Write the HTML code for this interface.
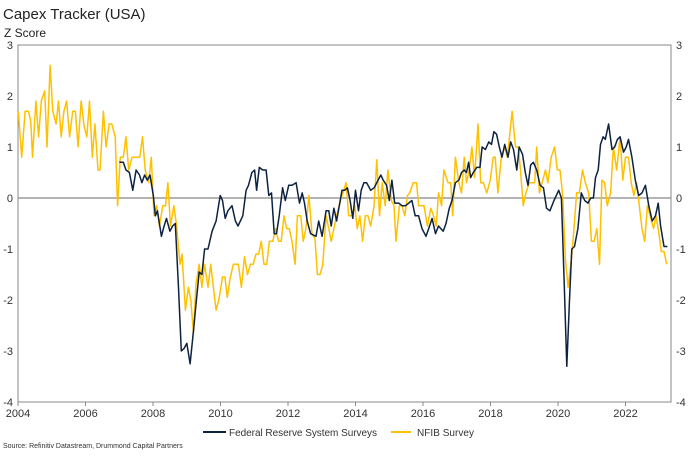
<!DOCTYPE html>
<html><head><meta charset="utf-8"><style>
body{margin:0;background:#fff;font-family:"Liberation Sans",sans-serif;}
svg text{font-family:"Liberation Sans",sans-serif;}
</style></head><body>
<svg id="chart" width="689" height="451">
<text x="3" y="19" font-size="15" fill="#222">Capex Tracker (USA)</text>
<text x="4" y="37" font-size="12" fill="#222">Z Score</text>
<g id="axes"></g>
<g id="series"></g>
<g>
<line x1="203" y1="432" x2="226" y2="432" stroke="#0d2240" stroke-width="2"/>
<text x="229" y="436" font-size="10" fill="#333" textLength="148">Federal Reserve System Surveys</text>
<line x1="391" y1="432" x2="411" y2="432" stroke="#ffc000" stroke-width="2"/>
<text x="417" y="436" font-size="10" fill="#333" textLength="57">NFIB Survey</text>
</g>
<text x="3" y="448" font-size="7" fill="#333">Source: Refinitiv Datastream, Drummond Capital Partners</text>
</svg>
<script>
const yTicks=[3,2,1,0,-1,-2,-3,-4];
const xTicks=[2004,2006,2008,2010,2012,2014,2016,2018,2020,2022];
const nfibDates=[2004.01,2004.11,2004.21,2004.31,2004.38,2004.43,2004.53,2004.61,2004.69,2004.79,2004.86,2004.95,2005.03,2005.13,2005.20,2005.28,2005.36,2005.44,2005.53,2005.62,2005.70,2005.78,2005.87,2005.96,2006.04,2006.12,2006.20,2006.28,2006.37,2006.43,2006.53,2006.61,2006.70,2006.78,2006.88,2006.95,2007.03,2007.12,2007.20,2007.28,2007.38,2007.52,2007.61,2007.69,2007.77,2007.87,2007.95,2008.03,2008.11,2008.19,2008.29,2008.37,2008.44,2008.52,2008.62,2008.70,2008.80,2008.86,2008.96,2009.05,2009.12,2009.20,2009.27,2009.37,2009.45,2009.53,2009.63,2009.71,2009.87,2009.95,
2010.06,2010.13,2010.20,2010.28,2010.38,2010.53,2010.62,2010.71,2010.80,2010.89,2010.97,2011.05,2011.13,2011.21,2011.29,2011.37,2011.45,2011.55,2011.63,2011.72,2011.80,2011.88,2011.96,2012.04,2012.12,2012.21,2012.28,2012.38,2012.45,2012.53,2012.62,2012.71,2012.80,2012.87,2012.95,2013.03,2013.13,2013.21,2013.28,2013.36,2013.44,2013.56,2013.72,2013.80,2013.90,2013.98,2014.05,2014.13,2014.21,2014.29,2014.37,2014.45,2014.55,2014.63,2014.71,2014.79,2014.88,2014.96,2015.06,2015.14,2015.20,2015.30,2015.38,2015.46,2015.54,2015.61,2015.71,2015.81,2015.87,2016.03,2016.13,2016.23,2016.31,2016.39,2016.46,
2016.55,2016.62,2016.74,2016.82,2016.88,2016.96,2017.06,2017.14,2017.22,2017.29,2017.37,2017.45,2017.53,2017.63,2017.71,2017.79,2017.89,2017.99,2018.08,2018.14,2018.22,2018.32,2018.42,2018.50,2018.64,2018.74,2018.82,2018.89,2018.97,2019.05,2019.15,2019.25,2019.31,2019.37,2019.45,2019.53,2019.63,2019.70,2019.80,2019.90,2019.98,2020.06,2020.14,2020.22,2020.30,2020.38,2020.45,2020.55,2020.63,2020.73,2020.81,2020.91,2020.99,2021.07,2021.15,2021.23,2021.30,2021.38,2021.46,2021.56,2021.64,2021.74,2021.84,2021.92,2022.00,2022.09,2022.17,2022.25,2022.33,2022.41,2022.49,2022.57,2022.65,2022.73,2022.83,2022.90,2022.98,2023.06,2023.14,2023.22];
const nfibValues=[1.7,0.8,1.7,1.7,1.5,0.8,1.9,1.2,1.9,2.1,1.0,2.6,1.7,1.45,1.9,1.2,1.7,1.9,1.2,1.7,1.7,1.0,1.9,1.4,1.2,1.9,0.8,1.45,0.55,0.55,1.7,1.0,1.45,1.45,1.2,-0.15,0.8,0.8,1.2,0.55,0.8,0.8,0.8,1.2,0.55,0.3,0.8,-0.35,-0.15,-0.55,-0.15,-0.15,0.3,-0.55,-0.15,-0.55,-1.3,-1.1,-2.2,-1.75,-2.0,-2.65,-1.7,-1.3,-1.75,-1.3,-1.75,-1.3,-2.2,-2.0,
-1.55,-1.55,-1.95,-1.6,-1.3,-1.3,-1.75,-1.15,-1.5,-1.3,-1.3,-1.1,-1.1,-0.85,-1.3,-1.3,-0.85,-0.85,-0.6,-0.85,-0.85,-0.35,-0.6,-0.6,-0.85,-1.3,-0.35,-0.35,-0.85,-0.6,0.05,-0.7,-0.8,-1.5,-1.5,-1.3,-0.35,-0.6,-0.85,-0.6,-0.35,-0.05,0.3,-0.35,-0.35,-0.15,-0.6,-0.35,-0.85,-0.35,-0.35,-0.55,-0.15,0.75,-0.35,0.3,-0.15,0.55,-0.05,-0.15,-0.85,-0.15,-0.15,-0.35,0.05,0.1,0.3,0.3,-0.15,-0.15,-0.55,-0.2,-0.35,-0.55,0.1,
-0.15,0.55,0.3,0.3,-0.35,0.8,0.3,0.1,0.8,0.3,0.55,1.0,0.4,1.45,0.3,0.3,0.1,0.35,0.8,0.8,0.1,0.8,1.0,0.8,1.7,1.0,1.0,0.55,-0.15,0.1,0.3,0.3,0.3,1.0,0.1,0.3,0.55,0.3,0.8,1.0,0.55,0.55,0.05,-1.2,-1.75,-1.3,-0.8,0.1,0.1,0.55,0.3,0.1,-0.85,-0.85,-0.6,-1.3,0.35,0.3,-0.15,0.1,1.0,0.55,1.2,0.35,0.8,0.8,0.3,0.05,0.3,-0.15,-0.6,-0.85,-0.15,-0.35,-0.6,-0.35,-0.65,-1.05,-1.05,-1.3];
const fedDates=[2007.00,2007.12,2007.20,2007.30,2007.40,2007.50,2007.60,2007.67,2007.75,2007.83,2007.91,2008.01,2008.07,2008.13,2008.25,2008.33,2008.40,2008.50,2008.58,2008.66,2008.76,2008.84,2008.92,2009.00,2009.10,2009.20,2009.27,2009.37,2009.45,2009.53,2009.63,2009.75,2009.87,
2009.99,2010.06,2010.14,2010.22,2010.34,2010.44,2010.52,2010.66,2010.76,2010.83,2010.93,2011.01,2011.07,2011.15,2011.25,2011.35,2011.43,2011.51,2011.59,2011.66,2011.74,2011.84,2011.92,2012.02,2012.12,2012.24,2012.34,2012.42,2012.49,2012.57,2012.67,2012.83,2012.91,2013.01,2013.13,2013.21,2013.28,2013.36,2013.44,2013.60,2013.68,2013.76,2013.84,2013.92,2014.00,2014.09,2014.17,2014.25,2014.33,2014.45,2014.55,2014.75,2014.82,2014.92,2015.00,2015.08,2015.16,2015.28,2015.38,2015.48,2015.58,2015.67,2015.77,2015.87,2015.97,2016.09,2016.17,2016.27,2016.37,2016.46,
2016.60,2016.68,2016.78,2016.86,2016.96,2017.06,2017.14,2017.22,2017.29,2017.35,2017.41,2017.49,2017.59,2017.69,2017.75,2017.85,2017.95,2018.03,2018.10,2018.18,2018.26,2018.34,2018.42,2018.52,2018.60,2018.68,2018.78,2018.85,2018.95,2019.03,2019.11,2019.19,2019.27,2019.37,2019.47,2019.57,2019.66,2019.76,2019.88,2020.02,2020.10,2020.18,2020.26,2020.34,2020.41,2020.49,2020.59,2020.69,2020.79,2020.89,2020.97,2021.05,2021.11,2021.19,2021.26,2021.34,2021.40,2021.50,2021.60,2021.68,2021.76,2021.84,2021.94,2022.02,2022.09,2022.19,2022.29,2022.39,2022.49,2022.59,2022.69,2022.79,2022.89,2022.97,2023.04,2023.14,2023.24];
const fedValues=[0.7,0.7,0.55,0.5,0.15,0.55,0.45,0.3,0.45,0.35,0.45,0.05,-0.35,-0.25,-0.75,-0.55,-0.4,-0.65,-0.55,-0.5,-1.8,-3.0,-2.95,-2.85,-3.25,-2.6,-2.1,-1.45,-1.5,-1.0,-1.0,-0.65,-0.45,
0.05,-0.05,-0.4,-0.25,-0.15,-0.45,-0.55,-0.35,0.15,0.25,0.5,0.55,0.15,0.6,0.55,0.55,0.05,0.1,-0.7,-0.7,-0.35,0.2,-0.05,0.25,0.25,0.3,-0.1,0.1,-0.1,-0.45,-0.7,-0.75,-0.45,-0.75,-0.25,-0.25,-0.55,-0.2,-0.45,0.15,0.15,0.2,-0.05,-0.4,0.15,-0.25,0.15,0.3,0.3,0.15,0.2,0.45,0.35,0.25,-0.05,0.35,-0.1,-0.1,-0.15,-0.15,-0.1,-0.05,-0.35,-0.35,-0.6,-0.75,-0.6,-0.4,-0.7,-0.55,
-0.65,-0.5,-0.2,-0.05,0.3,0.35,0.5,0.55,0.5,0.7,0.4,0.5,0.6,0.6,1.0,0.95,1.1,1.05,1.3,1.25,1.0,0.8,1.05,0.8,1.1,0.95,0.55,1.0,0.85,0.5,0.25,0.65,0.7,0.55,0.25,0.2,-0.2,-0.25,-0.05,0.15,0.0,-1.6,-3.3,-2.0,-1.0,-0.95,-0.6,0.1,-0.05,-0.1,0.0,0.0,0.4,0.55,1.05,1.2,1.15,1.45,0.95,1.0,1.15,1.2,0.9,1.0,1.15,0.8,0.35,0.05,0.1,0.25,-0.15,-0.45,-0.35,-0.1,-0.55,-0.95,-0.95];

const L=18,R=671,T=45,B=402;
function xs(yr){return L+(yr-2004)*33.75;}
function ys(v){return T+(3-v)*(B-T)/7;}
const NS='http://www.w3.org/2000/svg';
function mk(tag,attrs,parent){const e=document.createElementNS(NS,tag);for(const k in attrs)e.setAttribute(k,attrs[k]);parent.appendChild(e);return e;}
const ax=document.getElementById('axes'), se=document.getElementById('series');
let e;
e=mk('rect',{x:L,y:T,width:R-L,height:B-T,fill:'none',stroke:'#888','stroke-width':1},ax);


e=mk('line',{x1:L,x2:R,y1:ys(0),y2:ys(0),stroke:'#888','stroke-width':1.2},ax);


yTicks.forEach(v=>{
  e=mk('text',{x:L-5,y:ys(v)+4,'text-anchor':'end','font-size':11,fill:'#333'},ax);e.textContent=v;
  
  
  e=mk('text',{x:R+5,y:ys(v)+4,'font-size':11,fill:'#333'},ax);e.textContent=v;
  
  
});
xTicks.forEach(t=>{
  e=mk('line',{x1:xs(t),x2:xs(t),y1:B,y2:B+4,stroke:'#888'},ax);
  
  
  e=mk('text',{x:xs(t),y:B+15,'text-anchor':'middle','font-size':11,fill:'#333'},ax);e.textContent=t;
  
  
});
function path(d,v){return d.map((t,i)=>(i?'L':'M')+xs(t).toFixed(1)+' '+ys(v[i]).toFixed(1)).join(' ');}
e=mk('path',{d:path(nfibDates,nfibValues),fill:'none',stroke:'#ffc000','stroke-width':1.5,'stroke-linejoin':'round'},se);


e=mk('path',{d:path(fedDates,fedValues),fill:'none',stroke:'#0d2240','stroke-width':1.5,'stroke-linejoin':'round'},se);


</script>
</body></html>
